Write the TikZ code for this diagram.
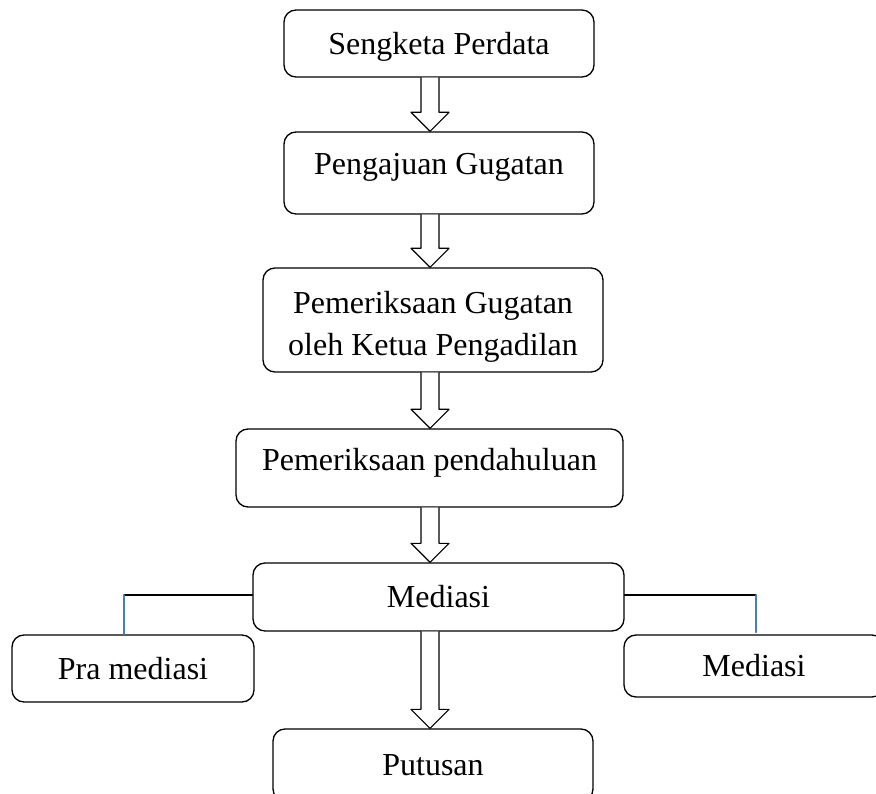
\documentclass[tikz,border=0pt]{standalone}
\usepackage{fontspec}
\setmainfont{Liberation Serif}
\usetikzlibrary{calc}
\definecolor{ink}{HTML}{000000}
\definecolor{wordblue}{HTML}{4A7EBB}

\begin{document}
\begin{tikzpicture}[x=1pt,y=-1pt,line cap=round,line join=round,font=\fontsize{32}{43}\selectfont]
  \tikzset{
    stepbox/.style={draw=ink,line width=1.3pt,rounded corners=12pt,inner sep=0pt,text height=21.5pt,text depth=0pt},
    hollow/.style={draw=ink,line width=1.2pt,fill=white},
    link/.style={ink,line width=1.3pt},
    bluelink/.style={wordblue,line width=1.3pt}
  }
  \useasboundingbox (0,0) rectangle (876,794);

  % Main column.
  \node[stepbox,minimum width=310pt,minimum height=67pt] (sp) at (439,43.5) {Sengketa Perdata};
  \node[stepbox,minimum width=310pt,minimum height=82pt,text depth=18pt] (pg) at (439,173) {Pengajuan Gugatan};
  \node[stepbox,minimum width=340pt,minimum height=104pt,align=center,text height=72pt] (pk) at (433,320)
    {Pemeriksaan Gugatan\\oleh Ketua Pengadilan};
  \node[stepbox,minimum width=387pt,minimum height=78pt,text depth=16pt] (pp) at (429.5,468) {Pemeriksaan pendahuluan};
  \node[stepbox,minimum width=371pt,minimum height=68pt] (med) at (438.5,597) {Mediasi};
  \node[stepbox,minimum width=320pt,minimum height=72pt] (put) at (433,765) {Putusan};

  % Side branches.
  \node[stepbox,minimum width=242pt,minimum height=67pt] (pra) at (133,668.5) {Pra mediasi};
  \node[stepbox,minimum width=260pt,minimum height=62pt] (medr) at (754,666) {Mediasi};

  % Hollow arrows down the column.
  \coordinate (ax) at (430,0);
  \foreach \from/\to in {sp/pg,pg/pk,pk/pp,pp/med,med/put}
    \draw[hollow] ($(ax |- \from.south)+(-9,0)$) -- ($(ax |- \to.north)+(-9,-19)$) -- ++(-10,0)
      -- (ax |- \to.north) -- ++(19,-19) -- ++(-10,0) -- ($(ax |- \from.south)+(9,0)$);

  % Branch lines.
  \coordinate (lk) at (124,595);
  \coordinate (rk) at (756,595);
  \draw[link] (med.west |- lk) -- (lk);
  \draw[bluelink] (lk) -- (lk |- pra.north);
  \draw[link] (med.east |- rk) -- (rk);
  \draw[bluelink] (rk) -- ($(rk |- medr.north)+(0,-2)$);
\end{tikzpicture}
\end{document}
